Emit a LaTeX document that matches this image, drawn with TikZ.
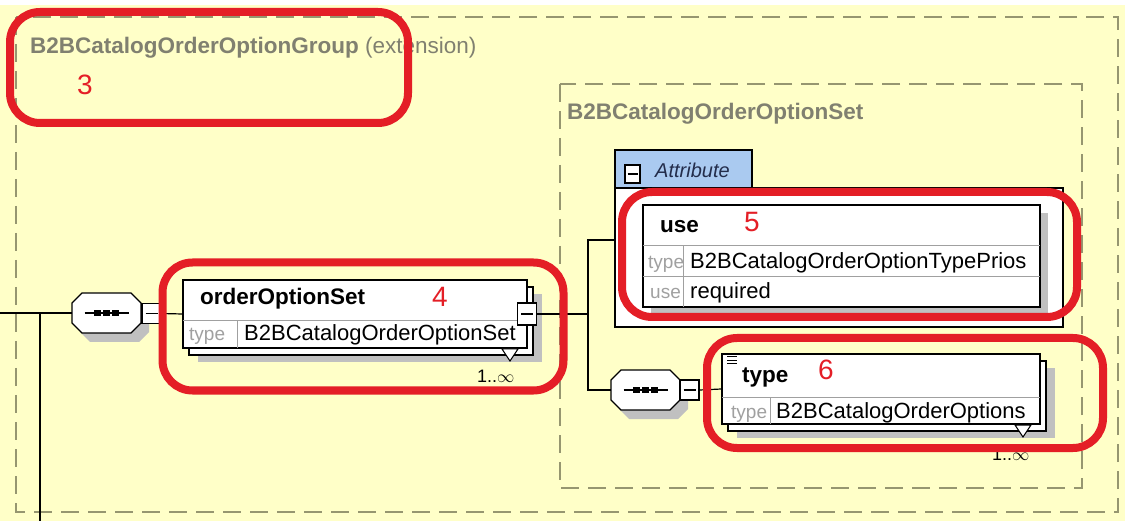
\documentclass[tikz,border=0pt]{standalone}
\usepackage{fontspec}
\setmainfont{Liberation Sans}
\usetikzlibrary{shadows}
\definecolor{paper}{RGB}{255,255,200}
\definecolor{dashgray}{RGB}{150,150,112}
\definecolor{titlegray}{RGB}{128,128,112}
\definecolor{markred}{RGB}{228,30,38}
\definecolor{headblue}{RGB}{170,202,240}
\definecolor{shadowgray}{RGB}{192,192,192}
\definecolor{labelgray}{RGB}{160,160,160}
\definecolor{attrtext}{RGB}{35,45,75}
\tikzset{
  wire/.style={draw=black, line width=1.2pt},
  dashbox/.style={draw=dashgray, line width=2pt, dash pattern=on 18pt off 9pt},
  ring/.style={draw=markred, line width=8pt, rounded corners=30pt, inner sep=0pt},
  elembox/.style={draw=black, fill=white, line width=1.2pt, inner sep=0pt,
    general shadow={fill=shadowgray, draw=none, shadow xshift=15pt, shadow yshift=-14pt},
    general shadow={fill=white, draw=black, shadow xshift=6pt, shadow yshift=-7pt}},
  seqnode/.style={minimum width=69pt, minimum height=40pt, inner sep=0pt,
    path picture={
      \draw[black, line width=1.2pt] ([xshift=-22pt]path picture bounding box.center)
        -- ([xshift=22pt]path picture bounding box.center);
      \foreach \d in {-9,0,9}
        \fill[black] ([xshift=\d pt]path picture bounding box.center) ++(-3.5,-3) rectangle ++(7,6);
    }},
  minusbox/.style={draw=black, fill=white, line width=1.2pt, minimum width=19pt,
    minimum height=20pt, inner sep=0pt},
  rowlabel/.style={anchor=base west, inner sep=0pt, text=labelgray, font=\fontsize{19}{21}\selectfont},
  rowvalue/.style={anchor=base west, inner sep=0pt, font=\fontsize{22}{24}\selectfont},
  elemname/.style={anchor=base west, inner sep=0pt, font=\bfseries\fontsize{22.5}{24}\selectfont},
  marknum/.style={anchor=base west, inner sep=0pt, text=markred, font=\fontsize{28}{30}\selectfont},
  divider/.style={draw=labelgray, line width=1pt},
}
\newcommand{\minusbar}{\rule{12pt}{1.3pt}}
% octagon outline of a sequence compositor, centred at (#1,#2)
\newcommand{\octpath}[2]{(#1-34.5,#2-10) -- (#1-24.5,#2-20) -- (#1+24.5,#2-20) -- (#1+34.5,#2-10)
  -- (#1+34.5,#2+10) -- (#1+24.5,#2+20) -- (#1-24.5,#2+20) -- (#1-34.5,#2+10) -- cycle}

\begin{document}
\begin{tikzpicture}[x=1pt,y=-1pt]
  \useasboundingbox (0,0) rectangle (1125,521);
  \fill[paper] (0,0) rectangle (1125,521);
  \fill[white] (0,0) rectangle (1125,5);

  % group and set frames
  \draw[dashbox] (16,17) rectangle (1118,512);
  \draw[dashbox] (560,84) rectangle (1082,488);
  \node[anchor=base west, inner sep=0pt, text=titlegray, font=\fontsize{22.5}{24}\selectfont]
    (grpTitle) at (30,54) {\textbf{B2BCatalogOrderOptionGroup} (extension)};
  \node[anchor=base west, inner sep=0pt, text=titlegray, font=\bfseries\fontsize{22.5}{24}\selectfont]
    (setTitle) at (567,120) {B2BCatalogOrderOptionSet};

  % sequence -> orderOptionSet
  \coordinate (entry) at (0,313);
  \coordinate (tee) at (40,313);
  \coordinate (drop) at (40,521);
  \fill[shadowgray, shift={(8,9)}] \octpath{106.5}{313};
  \draw[fill=white, line width=1.2pt] \octpath{106.5}{313};
  \node[seqnode] (seqA) at (106.5,313) {};
  \node[minusbox] (mA) at (151.5,313.5) {\minusbar};
  \node[elembox, minimum width=344pt, minimum height=68pt] (oos) at (355,314) {};
  \draw[wire] (entry) -- (seqA.west);
  \draw[wire] (tee) -- (drop);
  \draw[wire] (mA.east) -- (oos.west);
  \draw[divider] (183,321) -- (527,321);
  \draw[divider] (237,321) -- (237,348);
  \node[elemname] (oosName) at (200,305) {orderOptionSet};
  \node[rowlabel] (oosLbl) at (189,341) {type};
  \node[rowvalue] (oosType) at (244,341) {B2BCatalogOrderOptionSet};
  \node[minusbox, minimum height=22pt] (mOos) at (527,314) {\minusbar};
  \draw[black, fill=white, line width=1pt] (502,349) -- (518,349) -- (510,361) -- cycle;
  \node[rowvalue, font=\fontsize{18}{20}\selectfont] (oosOcc) at (477,383) {1..$\infty$};

  % branch
  \coordinate (branch) at (588,314);
  \coordinate (attrIn) at (615,240);
  \draw[wire] (mOos.east) -- (branch);
  \draw[wire] (attrIn) -| (branch) |- (611,390);

  % attribute group
  \node[draw=black, fill=white, line width=1.2pt, minimum width=448pt, minimum height=139pt,
    inner sep=0pt] (attrFrame) at (839,257.5) {};
  \node[draw=black, fill=headblue, line width=1.2pt, minimum width=137pt, minimum height=38pt,
    inner sep=0pt] (attrHead) at (683.5,169) {};
  \node[minusbox, minimum width=15pt, minimum height=18pt] (mAttr) at (632.5,174) {\rule{10pt}{1.3pt}};
  \node[anchor=base west, inner sep=0pt, text=attrtext, font=\itshape\fontsize{20}{22}\selectfont]
    (attrName) at (655,178) {Attribute};
  \node[draw=black, fill=white, line width=1.2pt, minimum width=397pt, minimum height=102pt,
    inner sep=0pt, general shadow={fill=shadowgray, draw=none, shadow xshift=8pt, shadow yshift=-8pt}]
    (useBox) at (841.5,256) {};
  \draw[divider] (643,246) -- (1040,246);
  \draw[divider] (643,277) -- (1040,277);
  \draw[divider] (683,246) -- (683,307);
  \node[elemname] (useName) at (660,233) {use};
  \node[rowlabel] (useLbl1) at (648,269) {type};
  \node[rowvalue] (useType) at (690,269) {B2BCatalogOrderOptionTypePrios};
  \node[rowlabel] (useLbl2) at (650,299) {use};
  \node[rowvalue] (useReq) at (690,299) {required};

  % sequence -> type
  \fill[shadowgray, shift={(8,9)}] \octpath{645.5}{390};
  \draw[fill=white, line width=1.2pt] \octpath{645.5}{390};
  \node[seqnode] (seqB) at (645.5,390) {};
  \node[minusbox] (mB) at (689.5,390) {\minusbar};
  \node[elembox, minimum width=318pt, minimum height=70pt] (typeBox) at (881,389) {};
  \draw[wire] (mB.east) -- (typeBox.west);
  \draw[divider] (722,397) -- (1040,397);
  \draw[divider] (770,397) -- (770,424);
  \foreach \yy in {357,360.5,364}
    \draw[line width=1pt] (727,\yy) -- (737,\yy);
  \node[elemname] (typeName) at (742,382) {type};
  \node[rowlabel] (typeLbl) at (731,418) {type};
  \node[rowvalue] (typeType) at (776,418) {B2BCatalogOrderOptions};
  \draw[black, fill=white, line width=1pt] (1015,425) -- (1031,425) -- (1023,437) -- cycle;
  \node[rowvalue, font=\fontsize{18}{20}\selectfont] (typeOcc) at (992,460) {1..$\infty$};

  % red marks
  \node[ring, minimum width=398pt, minimum height=111pt] (ring3) at (209,67.5) {};
  \node[ring, minimum width=401pt, minimum height=128pt] (ring4) at (363,326.5) {};
  \node[ring, minimum width=455pt, minimum height=125pt] (ring5) at (849.5,254.5) {};
  \node[ring, minimum width=396pt, minimum height=110pt] (ring6) at (905,393) {};
  \node[marknum] (num3) at (77,95) {3};
  \node[marknum] (num4) at (432,307) {4};
  \node[marknum] (num5) at (744,232) {5};
  \node[marknum] (num6) at (818,380) {6};
\end{tikzpicture}
\end{document}
